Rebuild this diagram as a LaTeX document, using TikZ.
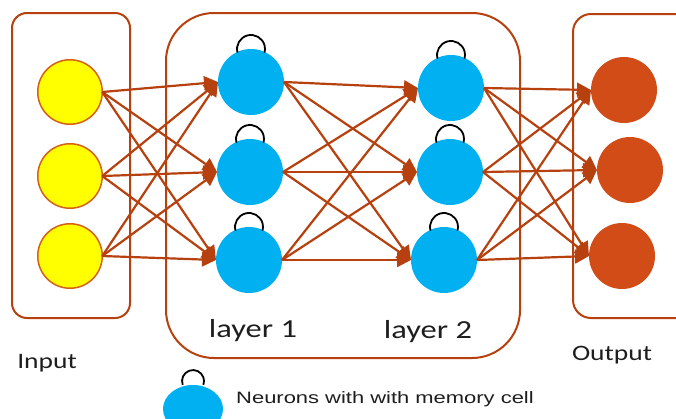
\documentclass[tikz,border=0pt]{standalone}
\usepackage{fontspec}
\newfontfamily\labelfont[FakeStretch=1.25]{Carlito}
\newfontfamily\legendfont[FakeStretch=1.33]{Liberation Sans}
\usetikzlibrary{arrows.meta,shapes.geometric}
\definecolor{linkc}{RGB}{183,65,14}
\definecolor{inyellow}{RGB}{255,255,0}
\definecolor{inborder}{RGB}{214,96,20}
\definecolor{hidblue}{RGB}{0,176,240}
\definecolor{outorange}{RGB}{209,76,22}
\definecolor{txt}{RGB}{30,30,30}
\begin{document}
\begin{tikzpicture}[x=1pt,y=-1pt,
  neuron/.style={circle, inner sep=0pt, outer sep=0pt, minimum size=66pt},
  innode/.style={neuron, fill=inyellow, draw=inborder, line width=1.5pt, minimum size=64.5pt},
  hidnode/.style={neuron, fill=hidblue},
  outnode/.style={neuron, fill=outorange},
  link/.style={draw=linkc, line width=2.2pt, -{Triangle[length=14pt,width=14pt]}},
  group/.style={draw=linkc, line width=2pt},
  memloop/.style={draw=black, line width=1.8pt},
  lbl/.style={font=\labelfont\fontsize{26}{30}\selectfont, text=txt, anchor=base, inner sep=0pt},
  smalllbl/.style={lbl, font=\labelfont\fontsize{22}{26}\selectfont}
]
\useasboundingbox (0,0) rectangle (676,418);
\clip (0,0) rectangle (676,418);

% group frames
\draw[group, rounded corners=15pt] (12,13) rectangle (130,318);
\draw[group, rounded corners=48pt] (166,13) rectangle (520,358);
\draw[group, rounded corners=18pt] (573,14) rectangle (700,318);

% input layer
\node[innode] (i1) at (70,92) {};
\node[innode] (i2) at (70,176) {};
\node[innode] (i3) at (70,256) {};
% hidden layer 1
\node[hidnode] (a1) at (251,82) {};
\node[hidnode] (a2) at (250,172) {};
\node[hidnode] (a3) at (249,260) {};
% hidden layer 2
\node[hidnode] (b1) at (451,88) {};
\node[hidnode] (b2) at (450,172) {};
\node[hidnode] (b3) at (444,260) {};
% output layer
\node[outnode] (o1) at (624,90) {};
\node[outnode] (o2) at (630,170) {};
\node[outnode] (o3) at (622,256) {};

% full connections between consecutive layers
\foreach \s in {i1,i2,i3}
  \foreach \t in {a1,a2,a3}
    \draw[link] (\s.east) -- (\t.west);
\foreach \s in {a1,a2,a3}
  \foreach \t in {b1,b2,b3}
    \draw[link] (\s.east) -- (\t.west);
\foreach \s in {b1,b2,b3}
  \foreach \t in {o1,o2,o3}
    \draw[link] (\s.east) -- (\t.west);

% memory loops on recurrent neurons
\foreach \n in {a1,a2,a3,b1,b2,b3}
  \draw[memloop] ([shift={(-13.5pt,-3.6pt)}]\n.north) arc[start angle=195,end angle=-15,radius=14pt];

% labels
\node[lbl] (l1) at (253,337) {layer 1};
\node[lbl] (l2) at (428,338) {layer 2};
\node[smalllbl] (inl) at (47,368) {Input};
\node[smalllbl] (outl) at (612,360) {Output};

% legend
\node[ellipse, fill=hidblue, inner sep=0pt, outer sep=0pt, minimum width=60pt, minimum height=48pt] (leg) at (193,409) {};
\draw[memloop] ([shift={(-10.3pt,0.2pt)}]leg.north) arc[start angle=200,end angle=-20,radius=11pt];
\node[font=\legendfont\fontsize{16.5}{20}\selectfont, text=txt, anchor=base west, inner sep=0pt] (legtxt) at (236,403) {Neurons with with memory cell};
\end{tikzpicture}
\end{document}
